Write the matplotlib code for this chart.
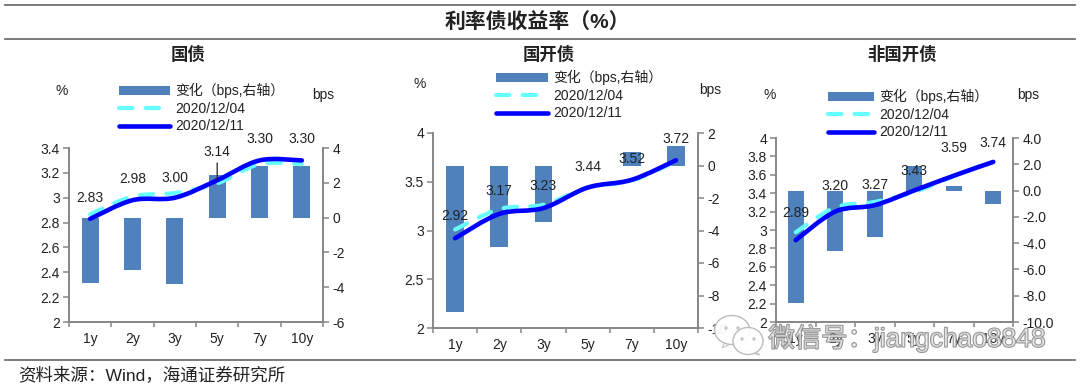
import matplotlib
matplotlib.use("Agg")
import matplotlib.pyplot as plt
import matplotlib.patheffects as pe
from matplotlib.lines import Line2D
from matplotlib.patches import Ellipse, Patch, PathPatch, Polygon
from matplotlib.path import Path

plt.rcParams['font.family'] = ['Liberation Sans', 'Noto Sans CJK SC', 'DejaVu Sans']

W, H = 1080, 388
TEXT = '#222222'
AXIS = '#868686'
BAR = '#4F81BD'
CYAN = '#66FFFF'
BLUE = '#0000FF'
DASH = (0, (3.2, 3.2))

tenors = ['1y', '2y', '3y', '5y', '7y', '10y']
legend_labels = ['变化（bps,右轴）', '2020/12/04', '2020/12/11']

# yields in %, change in bps
gov_1204 = [2.867, 3.01, 3.038, 3.115, 3.27, 3.27]
gov_1211 = [2.83, 2.98, 3.00, 3.14, 3.30, 3.30]
gov_change = [-3.77, -3.03, -3.8, 2.45, 2.98, 2.98]

cdb_1204 = [3.01, 3.22, 3.265, 3.44, 3.512, 3.708]
cdb_1211 = [2.92, 3.17, 3.23, 3.44, 3.52, 3.72]
cdb_change = [-9.0, -5.0, -3.5, -0.05, 0.85, 1.2]

ncd_1204 = [2.975, 3.246, 3.305, 3.412, 3.586, 3.75]
ncd_1211 = [2.89, 3.20, 3.27, 3.43, 3.59, 3.74]
ncd_change = [-8.55, -4.6, -3.55, 1.85, 0.38, -1.0]

gov_left_ticks = [2, 2.2, 2.4, 2.6, 2.8, 3, 3.2, 3.4]
gov_right_ticks = [-6, -4, -2, 0, 2, 4]
cdb_left_ticks = [2, 2.5, 3, 3.5, 4]
cdb_right_ticks = [-10, -8, -6, -4, -2, 0, 2]
ncd_left_ticks = [2, 2.2, 2.4, 2.6, 2.8, 3, 3.2, 3.4, 3.6, 3.8, 4]
ncd_right_ticks = [-10, -8, -6, -4, -2, 0, 2, 4]

fig = plt.figure(figsize=(W / 100, H / 100), dpi=100)


def px_text(x, y, s, **kw):
    kw.setdefault('ha', 'center')
    kw.setdefault('va', 'center')
    kw.setdefault('color', TEXT)
    return fig.text(x / W, 1 - y / H, s, **kw)


def px_rule(x0, x1, y, lw=1.3):
    fig.add_artist(Line2D([x0 / W, x1 / W], [1 - y / H, 1 - y / H], color='#707070', lw=lw))


def smooth_path(xs, ys):
    # Excel-style smoothed line: bezier segments through the data points
    n = len(xs)
    verts = [(xs[0], ys[0])]
    codes = [Path.MOVETO]
    for i in range(n - 1):
        p0 = max(i - 1, 0)
        p3 = min(i + 2, n - 1)
        verts.append((xs[i] + (xs[i + 1] - xs[p0]) / 6, ys[i] + (ys[i + 1] - ys[p0]) / 6))
        verts.append((xs[i + 1] - (xs[p3] - xs[i]) / 6, ys[i + 1] - (ys[p3] - ys[i]) / 6))
        verts.append((xs[i + 1], ys[i + 1]))
        codes.extend([Path.CURVE4, Path.CURVE4, Path.CURVE4])
    return Path(verts, codes)


def draw_panel(box, lines, change, left_ticks, right_ticks, left_lim, right_lim, right_fmt,
               label_gap, legend_xy, handle_len):
    x0, x1, y_top, y_bot = box
    ax = fig.add_axes([x0 / W, 1 - y_bot / H, (x1 - x0) / W, (y_bot - y_top) / H])
    ax2 = ax.twinx()
    ax.set_zorder(ax2.get_zorder() + 1)
    ax.patch.set_visible(False)
    xs = list(range(len(tenors)))

    ax2.bar(xs, change, width=0.4, color=BAR, edgecolor='none')
    ax2.set_ylim(*right_lim)
    ax2.set_yticks(right_ticks)
    ax2.set_yticklabels([right_fmt.format(t) for t in right_ticks])

    old, new = lines
    ax.add_patch(PathPatch(smooth_path(xs, old), fill=False, edgecolor=CYAN, lw=3,
                           linestyle=DASH, capstyle='round'))
    ax.add_patch(PathPatch(smooth_path(xs, new), fill=False, edgecolor=BLUE, lw=3.3,
                           capstyle='round'))
    ax.set_xlim(-0.5, 5.5)
    ax.set_ylim(*left_lim)
    ax.set_yticks(left_ticks)
    ax.set_yticklabels([f'{t:g}' for t in left_ticks])

    ax.set_xticks([i - 0.5 for i in range(7)])
    ax.set_xticklabels([])
    ax.set_xticks(xs, minor=True)
    ax.set_xticklabels(tenors, minor=True)
    ax.tick_params(axis='x', which='major', length=3.5, color=AXIS, width=1.1)
    ax.tick_params(axis='x', which='minor', length=0, pad=7, labelsize=10, labelcolor=TEXT)
    ax.tick_params(axis='y', length=4, color=AXIS, width=1.1, pad=2.5, labelsize=10, labelcolor=TEXT)
    ax2.tick_params(axis='y', length=4, color=AXIS, width=1.1, pad=3, labelsize=10, labelcolor=TEXT)

    for a in (ax, ax2):
        a.spines['top'].set_visible(False)
        for side in ('left', 'right', 'bottom'):
            a.spines[side].set_color(AXIS)
            a.spines[side].set_linewidth(1.2)

    for i, v in enumerate(new):
        ax.annotate(f'{v:.2f}', (i, v), xytext=(0, label_gap[i] * 0.72),
                    textcoords='offset points', ha='center', va='center',
                    fontsize=10, color=TEXT, zorder=6)

    handles = [Patch(facecolor=BAR, edgecolor='none'),
               Line2D([], [], color=CYAN, lw=3, linestyle=DASH, dash_capstyle='round'),
               Line2D([], [], color=BLUE, lw=3.3, solid_capstyle='round')]
    fig.legend(handles, legend_labels, loc='upper left',
               bbox_to_anchor=(legend_xy[0] / W, 1 - legend_xy[1] / H),
               frameon=False, fontsize=10, handlelength=handle_len, handleheight=0.55,
               handletextpad=0.4, labelspacing=0.25, borderpad=0, borderaxespad=0,
               labelcolor=TEXT)
    return ax


# frame rules and titles
px_rule(5, 1075, 5)
px_rule(5, 1075, 39)
px_rule(5, 1075, 360)
px_text(537, 23, '利率债收益率（%）', fontsize=15, fontweight='bold')
px_text(188, 54, '国债', fontsize=12.5, fontweight='bold')
px_text(549, 54, '国开债', fontsize=12.5, fontweight='bold')
px_text(902, 54, '非国开债', fontsize=12.5, fontweight='bold')
px_text(18, 375, '资料来源：Wind，海通证券研究所', ha='left', fontsize=12.6)

ax1 = draw_panel((69, 323, 148, 322), (gov_1204, gov_1211), gov_change,
                 gov_left_ticks, gov_right_ticks, (2, 3.4), (-6, 4), '{:g}',
                 [21, 21, 20, 28, 21, 21], (119, 83), 3.67)
ax2 = draw_panel((433, 698, 133, 328), (cdb_1204, cdb_1211), cdb_change,
                 cdb_left_ticks, cdb_right_ticks, (2, 4), (-10, 2), '{:g}',
                 [22, 23, 22, 21, 21, 21], (496, 70), 3.75)
ax3 = draw_panel((776, 1013, 138, 322), (ncd_1204, ncd_1211), ncd_change,
                 ncd_left_ticks, ncd_right_ticks, (2, 4), (-10, 4), '{:.1f}',
                 [27, 26, 20, 19, 28, 19], (828, 89), 3.3)

# leader line on the 5y label of the first panel
ax1.annotate('', xy=(3, 3.14), xytext=(0, 12.5), textcoords='offset points',
             arrowprops=dict(arrowstyle='-', color='#222222', lw=0.9, shrinkA=0, shrinkB=0))

# axis unit labels
for x, y, s in [(62, 91, '%'), (323, 95, 'bps'), (420, 84, '%'), (710, 90, 'bps'),
                (770, 95, '%'), (1028, 95, 'bps')]:
    px_text(x, y, s, fontsize=10)

# watermark: two speech bubbles and the account name
for cx, cy, w, h, tail in [(732, 330, 35, 29, (722, 348)), (748, 341, 30, 27, (760, 355))]:
    fig.add_artist(Polygon([((cx - 6) / W, 1 - (cy + 10) / H), (tail[0] / W, 1 - tail[1] / H),
                            ((cx + 6) / W, 1 - (cy + 10) / H)], transform=fig.transFigure,
                           facecolor='white', edgecolor='#c4c4c4', lw=0.8, zorder=20))
    fig.add_artist(Ellipse((cx / W, 1 - cy / H), w / W, h / H, transform=fig.transFigure,
                           facecolor='white', edgecolor='#b8b8b8', lw=1, alpha=0.95, zorder=20))
    for dx in (-6, 6):
        fig.add_artist(Ellipse(((cx + dx) / W, 1 - (cy - 2) / H), 3.5 / W, 3.5 / H,
                               transform=fig.transFigure, facecolor='#c8c8c8',
                               edgecolor='none', zorder=20))
px_text(907, 338, '微信号：jiangchao8848', fontsize=19, color=(1, 1, 1, 0.55), zorder=21,
        path_effects=[pe.withStroke(linewidth=1.2, foreground='#8c8c8c')])

fig.savefig('out.png', dpi=100)
